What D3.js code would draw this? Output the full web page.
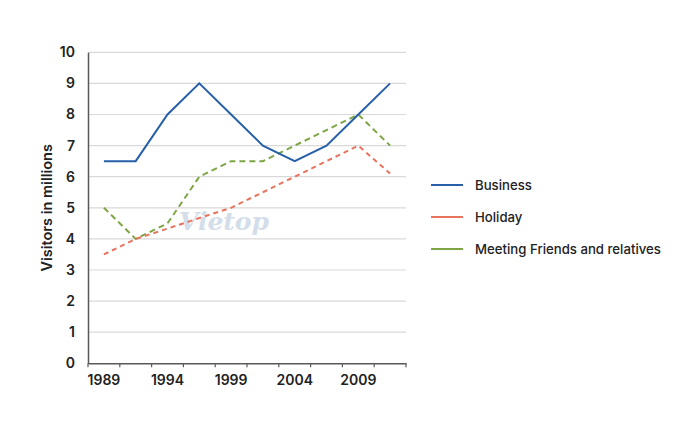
<!DOCTYPE html>
<html><head><meta charset="utf-8">
<script src="https://cdn.jsdelivr.net/npm/d3@7"></script>
<style>body{margin:0;background:#fff;} svg{display:block;font-family:Inter, "Noto Sans", sans-serif;}</style>
</head><body>
<svg id="c" width="700" height="435"></svg>
<script>
const categories = ["1989","1991","1994","1996","1999","2001","2004","2006","2009","2011"];
const tickLabels = ["1989","1994","1999","2004","2009"];
const business = [6.5, 6.5, 8, 9, 8, 7, 6.5, 7, 8, 9];
const holiday = [3.5, 4, 4.33, 4.67, 5, 5.5, 6, 6.5, 7, 6.1];
const meeting = [5, 4, 4.5, 6, 6.5, 6.5, 7, 7.5, 8, 7];
const yTicks = [0,1,2,3,4,5,6,7,8,9,10];
const seriesNames = ["Business","Holiday","Meeting Friends and relatives"];

const svg = d3.select("#c");
const L = 88, R = 406, T = 52.3, B = 363.3;
const x = d3.scaleBand().domain(categories).range([L, R]);
const y = d3.scaleLinear().domain([0, 10]).range([B, T]);

// gridlines
svg.append("g").selectAll("line").data(yTicks.filter(d => d > 0)).join("line")
  .attr("x1", L).attr("x2", R).attr("y1", d => y(d)).attr("y2", d => y(d))
  .attr("stroke", "#d9d9d9").attr("stroke-width", 1.2);

// watermark
svg.append("text").attr("x", 224).attr("y", 230).attr("text-anchor", "middle")
  .attr("font-family", "DejaVu Serif, serif").attr("font-style", "italic").attr("font-weight", "bold")
  .attr("font-size", 25).attr("fill", "#d3deea").text("Vietop");

// y axis
const ya = svg.append("g").attr("transform", `translate(${L},0)`)
  .call(d3.axisLeft(y).tickValues(yTicks).tickSize(0).tickPadding(13).tickFormat(d3.format("d")));
ya.select(".domain").attr("stroke", "#595959").attr("stroke-width", 1.5);
ya.selectAll("text").attr("font-size", 14).attr("font-weight", 600).attr("fill", "#222").attr("font-family", "Inter, sans-serif");

// x axis
const xa = svg.append("g").attr("transform", `translate(0,${B})`)
  .call(d3.axisBottom(x).tickSize(0).tickPadding(12).tickFormat(d => tickLabels.includes(d) ? d : ""));
xa.select(".domain").attr("stroke", "#595959").attr("stroke-width", 1.5);
xa.selectAll("text").attr("font-size", 14).attr("font-weight", 600).attr("fill", "#222").attr("font-family", "Inter, sans-serif");
// band boundary tick marks
const bounds = categories.map(c => x(c)).concat([x(categories[categories.length-1]) + x.bandwidth()]);
xa.append("g").selectAll("line").data(bounds).join("line")
  .attr("x1", d => d).attr("x2", d => d).attr("y1", 0).attr("y2", 4)
  .attr("stroke", "#595959").attr("stroke-width", 1.2);

// axis title
svg.append("text").attr("transform", `translate(52,${(T+B)/2}) rotate(-90)`)
  .attr("text-anchor", "middle").attr("font-size", 14.5).attr("font-weight", 600).attr("fill", "#222")
  .text("Visitors in millions");

const line = d3.line().x((d, i) => x(categories[i]) + x.bandwidth()/2).y(d => y(d));
const series = [
  {name: seriesNames[0], values: business, color: "#2760a9", dash: null},
  {name: seriesNames[1], values: holiday, color: "#e8735c", dash: "5,4"},
  {name: seriesNames[2], values: meeting, color: "#7ea544", dash: "6,4"}
];
[series[2], series[1], series[0]].forEach(s => {
  svg.append("path").datum(s.values).attr("d", line)
    .attr("fill", "none").attr("stroke", s.color).attr("stroke-width", 2)
    .attr("stroke-dasharray", s.dash);
});

// legend
const lg = svg.append("g");
series.forEach((s, i) => {
  const yy = 185 + i * 32;
  lg.append("line").attr("x1", 431).attr("x2", 463).attr("y1", yy).attr("y2", yy)
    .attr("stroke", s.color).attr("stroke-width", 2);
  lg.append("text").attr("x", 475).attr("y", yy + 4.5).attr("font-size", 13.2).attr("fill", "#222")
    .attr("font-weight", 500).text(s.name);
});
</script>
</body></html>
